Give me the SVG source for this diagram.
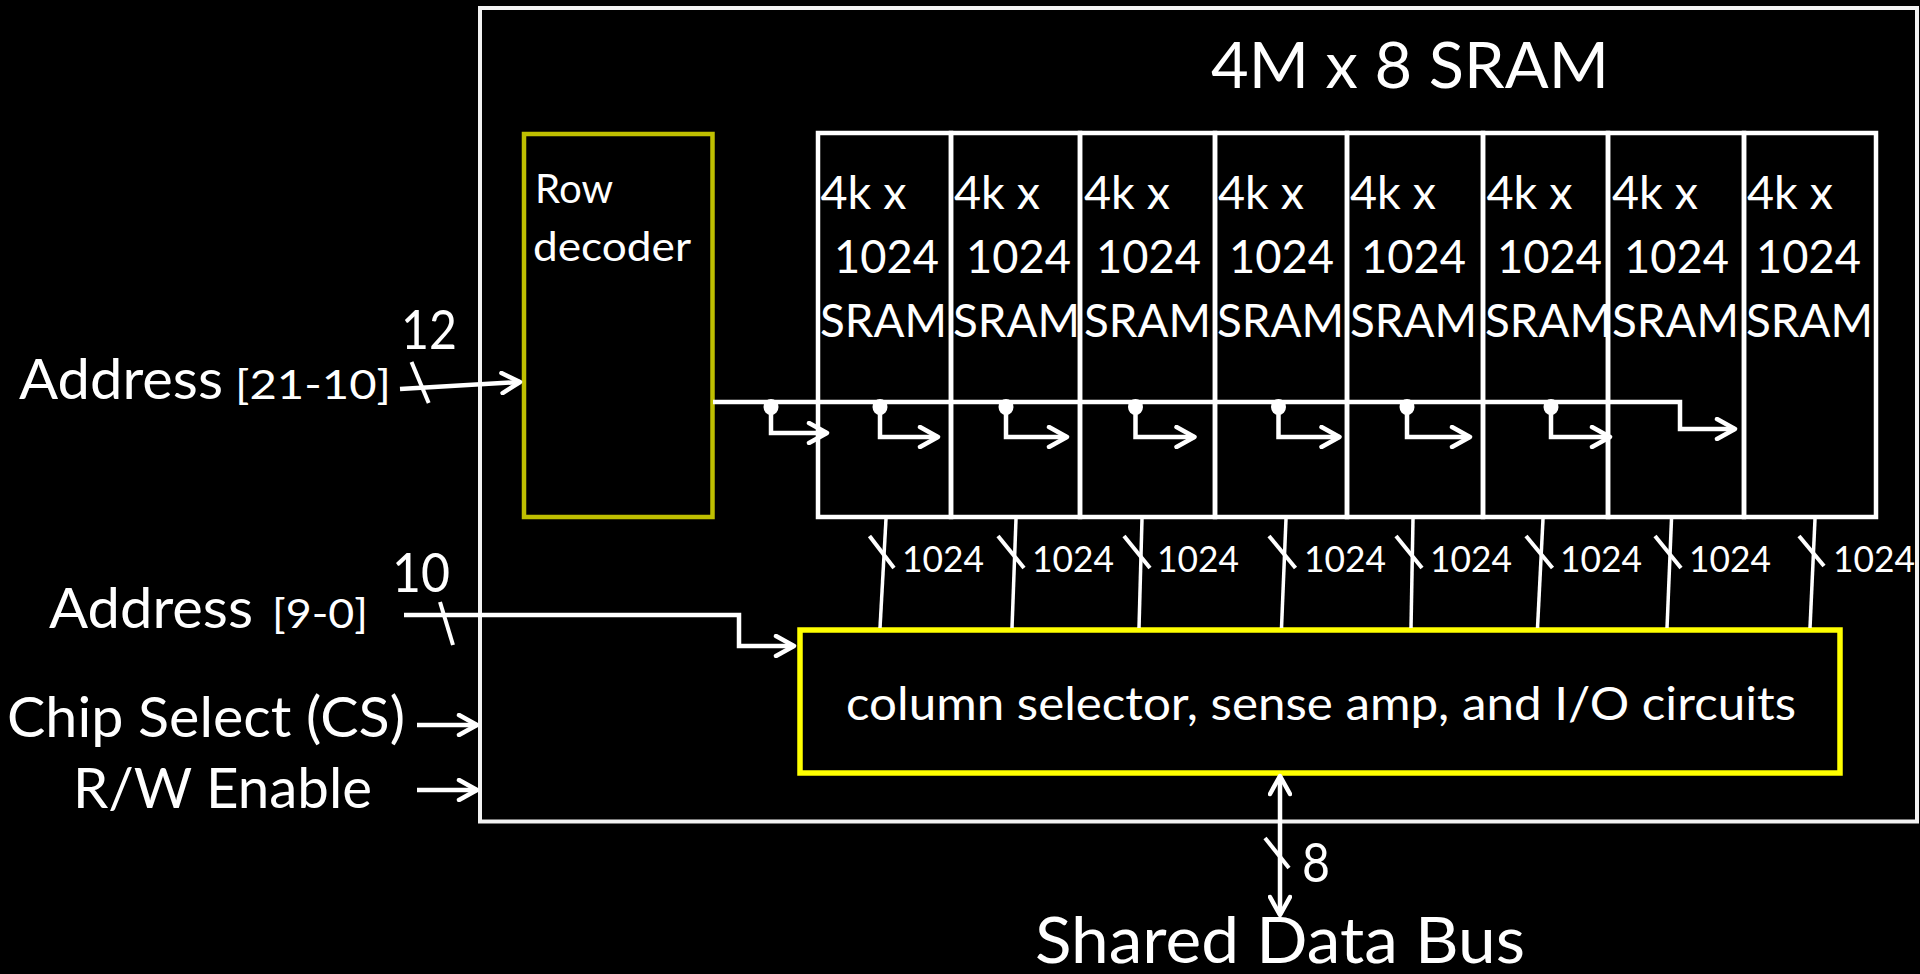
<svg xmlns="http://www.w3.org/2000/svg" width="1920" height="974" viewBox="0 0 1920 974">
<defs>
<style>
text{font-family:Lato,"Liberation Sans",sans-serif;fill:#fff}
.ln{fill:none;stroke:#fff;stroke-width:4.5;stroke-linejoin:miter}
.bus{fill:none;stroke:#fff;stroke-width:3.5}
.sl{stroke:#fff;stroke-width:4;stroke-linecap:butt}
.blk{fill:none;stroke:#fff;stroke-width:4.5}
.sram{font-size:46px}
.bl{font-size:36px}
</style>
<marker id="arr" markerUnits="userSpaceOnUse" viewBox="0 0 24 24" markerWidth="24" markerHeight="24" refX="21" refY="12" orient="auto-start-reverse">
<path d="M3,2 L21,12 L3,22" fill="none" stroke="#fff" stroke-width="4.5" stroke-linecap="round" stroke-linejoin="round"/>
</marker>
</defs>
<rect width="1920" height="974" fill="#000"/>

<g id="chip">
<rect x="480" y="8" width="1437" height="813.5" fill="none" stroke="#F2F2F2" stroke-width="4"/>
<text x="1211" y="88" font-size="63" textLength="398" lengthAdjust="spacingAndGlyphs">4M x 8 SRAM</text>
</g>

<g id="row-decoder">
<rect x="524" y="134" width="188.5" height="383" fill="none" stroke="#BFBF00" stroke-width="4.5"/>
<text x="535" y="203" font-size="40" textLength="78" lengthAdjust="spacingAndGlyphs">Row</text>
<text x="533" y="261" font-size="40" textLength="158" lengthAdjust="spacingAndGlyphs">decoder</text>
</g>

<g id="sram-0"><rect class="blk" x="818" y="133" width="133" height="384"/>
<text class="sram" x="820.5" y="209" textLength="86" lengthAdjust="spacingAndGlyphs">4k x</text>
<text class="sram" x="834" y="273" textLength="105" lengthAdjust="spacingAndGlyphs">1024</text>
<text class="sram" x="820" y="337" textLength="127" lengthAdjust="spacingAndGlyphs">SRAM</text></g>
<g id="sram-1"><rect class="blk" x="951" y="133" width="129" height="384"/>
<text class="sram" x="954" y="209" textLength="86" lengthAdjust="spacingAndGlyphs">4k x</text>
<text class="sram" x="966" y="273" textLength="105" lengthAdjust="spacingAndGlyphs">1024</text>
<text class="sram" x="953" y="337" textLength="127" lengthAdjust="spacingAndGlyphs">SRAM</text></g>
<g id="sram-2"><rect class="blk" x="1080" y="133" width="135" height="384"/>
<text class="sram" x="1084" y="209" textLength="86" lengthAdjust="spacingAndGlyphs">4k x</text>
<text class="sram" x="1096" y="273" textLength="105" lengthAdjust="spacingAndGlyphs">1024</text>
<text class="sram" x="1084" y="337" textLength="127" lengthAdjust="spacingAndGlyphs">SRAM</text></g>
<g id="sram-3"><rect class="blk" x="1215" y="133" width="132" height="384"/>
<text class="sram" x="1218" y="209" textLength="86" lengthAdjust="spacingAndGlyphs">4k x</text>
<text class="sram" x="1229" y="273" textLength="105" lengthAdjust="spacingAndGlyphs">1024</text>
<text class="sram" x="1217" y="337" textLength="127" lengthAdjust="spacingAndGlyphs">SRAM</text></g>
<g id="sram-4"><rect class="blk" x="1347" y="133" width="136" height="384"/>
<text class="sram" x="1350" y="209" textLength="86" lengthAdjust="spacingAndGlyphs">4k x</text>
<text class="sram" x="1361" y="273" textLength="105" lengthAdjust="spacingAndGlyphs">1024</text>
<text class="sram" x="1350" y="337" textLength="127" lengthAdjust="spacingAndGlyphs">SRAM</text></g>
<g id="sram-5"><rect class="blk" x="1483" y="133" width="125" height="384"/>
<text class="sram" x="1486.5" y="209" textLength="86" lengthAdjust="spacingAndGlyphs">4k x</text>
<text class="sram" x="1497" y="273" textLength="105" lengthAdjust="spacingAndGlyphs">1024</text>
<text class="sram" x="1485" y="337" textLength="127" lengthAdjust="spacingAndGlyphs">SRAM</text></g>
<g id="sram-6"><rect class="blk" x="1608" y="133" width="136" height="384"/>
<text class="sram" x="1612" y="209" textLength="86" lengthAdjust="spacingAndGlyphs">4k x</text>
<text class="sram" x="1624" y="273" textLength="105" lengthAdjust="spacingAndGlyphs">1024</text>
<text class="sram" x="1612" y="337" textLength="127" lengthAdjust="spacingAndGlyphs">SRAM</text></g>
<g id="sram-7"><rect class="blk" x="1744" y="133" width="132" height="384"/>
<text class="sram" x="1747" y="209" textLength="86" lengthAdjust="spacingAndGlyphs">4k x</text>
<text class="sram" x="1756" y="273" textLength="105" lengthAdjust="spacingAndGlyphs">1024</text>
<text class="sram" x="1746" y="337" textLength="127" lengthAdjust="spacingAndGlyphs">SRAM</text></g>

<g id="column-selector">
<rect x="800" y="630" width="1040" height="143" fill="none" stroke="#FFFF00" stroke-width="5.5"/>
<text x="846" y="720" font-size="46" textLength="950" lengthAdjust="spacingAndGlyphs">column selector, sense amp, and I/O circuits</text>
</g>

<g id="address-high">
<text x="19" y="399" font-size="56" textLength="204" lengthAdjust="spacingAndGlyphs">Address</text>
<text x="235" y="399" font-size="41" textLength="156" lengthAdjust="spacingAndGlyphs">[21-10]</text>
<text x="401" y="349" font-size="54" textLength="56" lengthAdjust="spacingAndGlyphs">12</text>
</g>
<g id="address-low">
<text x="49" y="628" font-size="56" textLength="204" lengthAdjust="spacingAndGlyphs">Address</text>
<text x="272" y="628" font-size="41" textLength="96" lengthAdjust="spacingAndGlyphs">[9-0]</text>
<text x="392" y="592" font-size="54" textLength="58" lengthAdjust="spacingAndGlyphs">10</text>
</g>
<g id="chip-select">
<text x="7" y="737" font-size="56" textLength="398" lengthAdjust="spacingAndGlyphs">Chip Select (CS)</text>
</g>
<g id="rw-enable">
<text x="73" y="808" font-size="56" textLength="299" lengthAdjust="spacingAndGlyphs">R/W Enable</text>
</g>
<g id="data-bus">
<text x="1302" y="882" font-size="54" textLength="28" lengthAdjust="spacingAndGlyphs">8</text>
<text x="1035" y="963" font-size="64" textLength="490" lengthAdjust="spacingAndGlyphs">Shared Data Bus</text>
</g>

<g id="connectors">
<path class="ln" d="M400,389 L520,382" marker-end="url(#arr)"/>
<line class="sl" x1="411.5" y1="362" x2="428.7" y2="403"/>
<path class="ln" d="M404,615 H739 V646 H794" marker-end="url(#arr)"/>
<line class="sl" x1="440" y1="602" x2="453" y2="645"/>
<path class="ln" d="M417,725 H477" marker-end="url(#arr)"/>
<path class="ln" d="M417,790 H477" marker-end="url(#arr)"/>
<path class="ln" d="M713,402 H1680 V429 H1735" marker-end="url(#arr)"/>
<g fill="#fff">
<ellipse cx="771" cy="407" rx="7.5" ry="8"/>
<ellipse cx="880" cy="407" rx="7.5" ry="8"/>
<ellipse cx="1006" cy="407" rx="7.5" ry="8"/>
<ellipse cx="1135.5" cy="407" rx="7.5" ry="8"/>
<ellipse cx="1278.5" cy="407" rx="7.5" ry="8"/>
<ellipse cx="1407" cy="407" rx="7.5" ry="8"/>
<ellipse cx="1551" cy="407" rx="7.5" ry="8"/>
</g>
<path class="ln" d="M771,402 V433 H827" marker-end="url(#arr)"/>
<path class="ln" d="M880,402 V437 H938" marker-end="url(#arr)"/>
<path class="ln" d="M1006,402 V437 H1067" marker-end="url(#arr)"/>
<path class="ln" d="M1135.5,402 V437 H1194.5" marker-end="url(#arr)"/>
<path class="ln" d="M1278.5,402 V437 H1339.5" marker-end="url(#arr)"/>
<path class="ln" d="M1407,402 V437 H1470" marker-end="url(#arr)"/>
<path class="ln" d="M1551,402 V437 H1610" marker-end="url(#arr)"/>
<line class="bus" x1="886" y1="519" x2="880" y2="628"/>
<line class="bus" x1="1016" y1="519" x2="1012" y2="628"/>
<line class="bus" x1="1142" y1="519" x2="1139" y2="628"/>
<line class="bus" x1="1286" y1="519" x2="1281.5" y2="628"/>
<line class="bus" x1="1413" y1="519" x2="1411" y2="628"/>
<line class="bus" x1="1543" y1="519" x2="1537.5" y2="628"/>
<line class="bus" x1="1671.5" y1="519" x2="1667" y2="628"/>
<line class="bus" x1="1815" y1="519" x2="1810" y2="628"/>
<line class="sl" x1="869.5" y1="536" x2="894" y2="568"/>
<line class="sl" x1="998" y1="536" x2="1024" y2="568"/>
<line class="sl" x1="1124" y1="536" x2="1150" y2="568"/>
<line class="sl" x1="1269" y1="536" x2="1295.5" y2="568"/>
<line class="sl" x1="1396" y1="536" x2="1422" y2="568"/>
<line class="sl" x1="1526" y1="536" x2="1552.5" y2="568"/>
<line class="sl" x1="1655" y1="536" x2="1681" y2="568"/>
<line class="sl" x1="1799" y1="536" x2="1824" y2="566"/>
<g class="bl">
<text x="902" y="572" textLength="82" lengthAdjust="spacingAndGlyphs">1024</text>
<text x="1032" y="572" textLength="82" lengthAdjust="spacingAndGlyphs">1024</text>
<text x="1157" y="572" textLength="82" lengthAdjust="spacingAndGlyphs">1024</text>
<text x="1304" y="572" textLength="82" lengthAdjust="spacingAndGlyphs">1024</text>
<text x="1430" y="572" textLength="82" lengthAdjust="spacingAndGlyphs">1024</text>
<text x="1560" y="572" textLength="82" lengthAdjust="spacingAndGlyphs">1024</text>
<text x="1689" y="572" textLength="82" lengthAdjust="spacingAndGlyphs">1024</text>
<text x="1833" y="572" textLength="82" lengthAdjust="spacingAndGlyphs">1024</text>
</g>
<path class="ln" d="M1280,776 V915" marker-start="url(#arr)" marker-end="url(#arr)"/>
<line class="sl" x1="1265" y1="838" x2="1289" y2="868"/>
</g>
</svg>
